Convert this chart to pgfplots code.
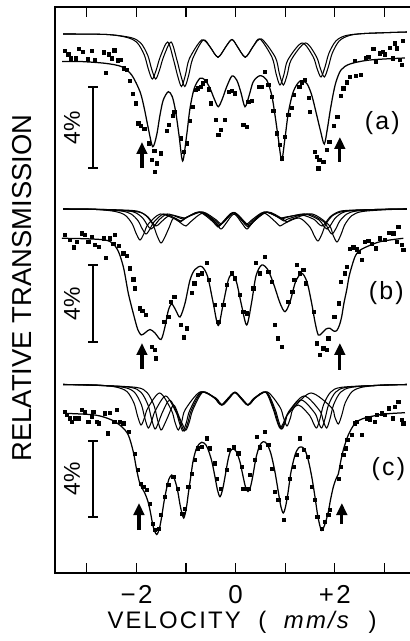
\documentclass[border=0pt]{standalone}
\usepackage{fontspec}
\setmainfont{Liberation Sans}
\newfontfamily\spfont{Liberation Sans}[LetterSpace=9]
\usepackage{pgfplots}
\pgfplotsset{compat=1.18}
\usetikzlibrary{arrows.meta}
\pgfplotsset{
 fitline/.style={black, line width=1.25bp, smooth, tension=0.5, mark=none},
 subline/.style={black, line width=1.05bp, smooth, tension=0.5, mark=none},
 pts/.style={black, only marks, mark=square*, mark size=1.6bp},
}
\begin{document}
\begin{tikzpicture}
\begin{axis}[
 name=main,
 scale only axis, width=359bp, height=566bp,
 xmin=-3.643, xmax=3.595, ymin=-573, ymax=-7,
 enlargelimits=false,
 axis line style={line width=1.4bp},
 xtick={-3,-2,-1,0,1,2,3},
 xticklabels={,{−2},,{0},,{+2},},
 ytick=\empty,
 xtick pos=both, xticklabel pos=lower,
 tick align=inside, major tick length=10bp,
 tick style={line width=1.2bp, black},
 xticklabel style={font=\spfont\fontsize{26}{26}\selectfont, anchor=base, yshift=-30bp},
 xlabel={VELOCITY\ \ (\ \ \textit{mm/s}\ \ )},
 xlabel style={font=\spfont\fontsize{24}{24}\selectfont, at={(axis description cs:0.521,-0.0972)}, anchor=base},
 ylabel={RELATIVE TRANSMISSION},
 ylabel style={font=\fontsize{27.5}{27.5}\selectfont, at={(axis description cs:-0.0919,0.5035)}, anchor=center},
]
% ---------------- panel (a) ----------------
\addplot[subline] coordinates {(-3.48,-34) (-2.6,-34.5) (-2.181,-37.6) (-1.981,-43) (-1.841,-55.2) (-1.761,-69.1) (-1.681,-79) (-1.601,-69.8) (-1.521,-56.8) (-1.371,-42) (-1.253,-59.8) (-1.173,-75.4) (-1.093,-86.5) (-1.013,-74.9) (-0.933,-58.6) (-0.685,-40) (-0.517,-46.9) (-0.437,-53) (-0.357,-57.3) (-0.277,-52.9) (-0.197,-46.6) (-0.075,-39.5) (0.034,-46.6) (0.114,-52.9) (0.194,-57.3) (0.274,-52.7) (0.354,-46.3) (0.490,-39) (0.733,-57.4) (0.813,-73.5) (0.893,-85) (0.973,-74.5) (1.053,-59.8) (1.337,-43) (1.560,-56.6) (1.640,-68.5) (1.720,-77) (1.800,-67.1) (1.880,-53.2) (2.020,-41) (2.220,-35.6) (2.6,-33.5) (3.45,-32)};
\addplot[subline] coordinates {(-3.48,-34) (-2.6,-34.5) (-2.114,-37.6) (-1.914,-43) (-1.774,-55.2) (-1.694,-69.1) (-1.614,-79) (-1.534,-69.8) (-1.454,-56.8) (-1.304,-42) (-1.186,-59.8) (-1.106,-75.4) (-1.026,-86.5) (-0.946,-74.9) (-0.866,-58.6) (-0.655,-40) (-0.517,-46.9) (-0.437,-53) (-0.357,-57.3) (-0.277,-52.9) (-0.197,-46.6) (-0.075,-39.5) (0.034,-46.6) (0.114,-52.9) (0.194,-57.3) (0.274,-52.7) (0.354,-46.3) (0.520,-39) (0.800,-57.4) (0.880,-73.5) (0.960,-85) (1.040,-74.5) (1.120,-59.8) (1.404,-43) (1.627,-56.6) (1.707,-68.5) (1.787,-77) (1.867,-67.1) (1.947,-53.2) (2.087,-41) (2.287,-35.6) (2.6,-33.5) (3.45,-32)};
\addplot[fitline] coordinates {(-3.50,-61.5) (-3.139,-61.5) (-2.635,-63.3) (-2.298,-66.7) (-2.097,-75) (-1.929,-91.7) (-1.843,-108.3) (-1.762,-128.3) (-1.673,-146.7) (-1.593,-135) (-1.526,-115) (-1.460,-100) (-1.359,-91.7) (-1.278,-96.7) (-1.210,-111.7) (-1.143,-135) (-1.069,-161) (-0.988,-135) (-0.921,-108.3) (-0.835,-88.3) (-0.720,-78.3) (-0.619,-80) (-0.518,-88.3) (-0.431,-99) (-0.351,-106.7) (-0.270,-99) (-0.181,-86.7) (-0.075,-76) (0.020,-80) (0.101,-91.7) (0.188,-106.7) (0.274,-95) (0.355,-81.7) (0.490,-75.7) (0.625,-80) (0.726,-95) (0.792,-115) (0.859,-138.3) (0.927,-160) (0.994,-138.3) (1.060,-113.3) (1.161,-91.7) (1.296,-81) (1.431,-83.3) (1.532,-95) (1.633,-115) (1.714,-131.7) (1.786,-144) (1.851,-128) (1.901,-112) (1.962,-95) (2.022,-82) (2.123,-70) (2.304,-64) (2.708,-60) (3.413,-58)};
\addplot[pts] coordinates {(-3.441,-50.7) (-3.375,-54.3) (-3.321,-58.3) (-3.226,-58.3) (-3.159,-49) (-3.079,-51.7) (-2.984,-59.3) (-2.903,-51) (-2.837,-60.3) (-2.669,-52.3) (-2.615,-72.7) (-2.554,-54.3) (-2.500,-58.3) (-2.448,-50.3) (-2.379,-60.3) (-2.327,-59.7) (-2.252,-68.3) (-2.198,-70) (-2.137,-80.7) (-2.077,-94) (-2.016,-103.3) (-1.964,-123.3) (-1.909,-125.7) (-1.843,-129) (-1.748,-143.3) (-1.694,-159.7) (-1.641,-151) (-1.593,-163.3) (-1.627,-171.7) (-1.506,-153.3) (-1.391,-131) (-1.345,-125) (-1.278,-115.7) (-1.238,-111.7) (-1.103,-138.3) (-1.056,-151.7) (-0.988,-143.3) (-0.921,-121) (-0.875,-106.7) (-0.806,-90) (-0.766,-88.3) (-0.706,-86.7) (-0.665,-83.3) (-0.605,-81) (-0.552,-89.3) (-0.504,-103.3) (-0.403,-120) (-0.351,-135) (-0.302,-130) (-0.216,-120) (-0.149,-91.7) (-0.081,-91) (-0.014,-93.3) (0.153,-125) (0.222,-126.7) (0.254,-101.7) (0.323,-101) (0.456,-86.7) (0.524,-86.7) (0.591,-71.7) (0.657,-85) (0.726,-96.7) (0.758,-111) (0.827,-133.3) (0.893,-145) (0.927,-158.3) (0.994,-136.7) (1.060,-115) (1.129,-107.7) (1.175,-95) (1.282,-86.7) (1.331,-82.3) (1.397,-80) (1.478,-97.7) (1.498,-111.7) (1.599,-151.7) (1.633,-156.7) (1.685,-160) (1.665,-168.3) (1.766,-161.7) (1.835,-150) (1.887,-141.7) (1.968,-125.7) (2.048,-116.7) (2.117,-95.7) (2.169,-88.3) (2.238,-82.3) (2.304,-76.7) (2.405,-61) (2.425,-75.7) (2.520,-75) (2.627,-58.3) (2.673,-56.7) (2.774,-49) (2.823,-61.7) (2.909,-53.3) (2.964,-51.7) (3.010,-54.3) (3.097,-47.7) (3.165,-58.3) (3.212,-43.3) (3.246,-48.3) (3.313,-60) (3.347,-65) (3.367,-41)};
% ---------------- panel (b) ----------------
\addplot[subline] coordinates {(-3.48,-209) (-2.8,-209.5) (-2.429,-211.5) (-2.229,-215.2) (-2.089,-223.6) (-2.009,-233.2) (-1.929,-240) (-1.849,-233.5) (-1.769,-224.4) (-1.52,-214) (-1.219,-219.2) (-1.119,-222) (-1.019,-218.5) (-0.74,-212) (-0.457,-221.8) (-0.357,-227) (-0.257,-221.8) (-0.055,-212.5) (0.148,-222) (0.248,-227) (0.348,-222) (0.64,-212) (0.934,-218.5) (1.034,-222) (1.134,-219.2) (1.54,-214) (1.882,-225.2) (1.962,-235) (2.042,-242) (2.122,-234.7) (2.202,-224.5) (2.342,-215.6) (2.542,-211.6) (3.0,-209.8) (3.45,-209)};
\addplot[subline] coordinates {(-3.48,-209) (-2.8,-209.5) (-2.006,-211.7) (-1.806,-215.8) (-1.666,-225) (-1.586,-235.5) (-1.506,-243) (-1.426,-236.8) (-1.346,-228) (-1.25,-218) (-1.102,-223.2) (-1.002,-226) (-0.902,-221.5) (-0.65,-213) (-0.396,-223.4) (-0.296,-229) (-0.196,-223.4) (-0.034,-214) (0.128,-223.4) (0.228,-229) (0.328,-223.4) (0.56,-213) (0.793,-221.5) (0.893,-226) (0.993,-223.2) (1.28,-218) (1.499,-227.2) (1.579,-235.3) (1.659,-241) (1.739,-234) (1.819,-224) (1.959,-215.4) (2.159,-211.6) (2.6,-209.8) (3.45,-209)};
\addplot[subline] coordinates {(-3.48,-209) (-2.8,-209.4) (-2.308,-211) (-2.108,-214) (-1.968,-220.8) (-1.888,-228.5) (-1.808,-234) (-1.728,-229) (-1.648,-222) (-1.45,-214) (-1.203,-218.6) (-1.103,-221) (-1.003,-217.9) (-0.72,-212) (-0.437,-221.1) (-0.337,-226) (-0.237,-221.1) (-0.035,-212.5) (0.168,-221.1) (0.268,-226) (0.368,-221.1) (0.62,-212) (0.874,-217.9) (0.974,-221) (1.074,-218.6) (1.46,-214) (1.782,-222) (1.862,-229) (1.942,-234) (2.022,-228.5) (2.102,-220.8) (2.242,-214) (2.442,-211) (3.0,-209.4) (3.45,-209)};
\addplot[subline] coordinates {(-3.48,-209) (-2.8,-209.3) (-2.208,-210.6) (-2.008,-213) (-1.868,-218.4) (-1.788,-224.6) (-1.708,-229) (-1.628,-225.3) (-1.548,-220) (-1.38,-214) (-1.163,-217.3) (-1.063,-219) (-0.963,-216.6) (-0.69,-212) (-0.417,-220.5) (-0.317,-225) (-0.217,-220.5) (-0.035,-212.5) (0.148,-220.5) (0.248,-225) (0.348,-220.5) (0.59,-212) (0.833,-216.6) (0.933,-219) (1.033,-217.3) (1.39,-214) (1.681,-220) (1.761,-225.3) (1.841,-229) (1.921,-224.6) (2.001,-218.4) (2.141,-213) (2.341,-210.6) (3.0,-209.3) (3.45,-209)};
\addplot[subline] coordinates {(-3.48,-209) (-2.8,-209.3) (-2.107,-210.4) (-1.907,-212.4) (-1.767,-217) (-1.687,-222.3) (-1.607,-226) (-1.527,-223.3) (-1.447,-219.4) (-1.31,-215) (-1.123,-217) (-1.023,-218) (-0.923,-215.9) (-0.66,-212) (-0.396,-219.8) (-0.296,-224) (-0.196,-219.8) (-0.034,-212.5) (0.128,-219.8) (0.228,-224) (0.328,-219.8) (0.57,-212) (0.813,-215.9) (0.913,-218) (1.013,-217) (1.33,-215) (1.580,-219.4) (1.660,-223.3) (1.740,-226) (1.820,-222.3) (1.900,-217) (2.040,-212.4) (2.240,-210.4) (3.0,-209.3) (3.45,-209)};
\addplot[fitline] coordinates {(-3.502,-238.3) (-2.635,-240) (-2.399,-248.3) (-2.266,-266.7) (-2.165,-293.3) (-2.065,-313.3) (-1.976,-329.3) (-1.903,-335) (-1.819,-332.5) (-1.728,-329.5) (-1.627,-333) (-1.506,-339.5) (-1.425,-326.7) (-1.359,-310.5) (-1.290,-304) (-1.210,-310) (-1.123,-317) (-1.022,-303.3) (-0.921,-280) (-0.821,-269.5) (-0.685,-266.5) (-0.565,-276.7) (-0.452,-303.3) (-0.351,-325.5) (-0.250,-303.3) (-0.149,-280) (-0.075,-274.5) (0.016,-282) (0.117,-305) (0.222,-325) (0.319,-303) (0.409,-276) (0.524,-265) (0.651,-270) (0.772,-285) (0.893,-303) (0.994,-311.7) (1.095,-302) (1.206,-282) (1.331,-273.3) (1.438,-282) (1.532,-303.3) (1.599,-322) (1.665,-335) (1.740,-333) (1.821,-329) (1.901,-328.3) (1.972,-331) (2.036,-330.7) (2.093,-325) (2.137,-316.7) (2.183,-303) (2.238,-290) (2.284,-277) (2.339,-266.7) (2.405,-256.7) (2.472,-251.7) (2.573,-248.3) (2.909,-241.7) (3.379,-238.3)};
\addplot[pts] coordinates {(-3.441,-235) (-3.341,-240) (-3.274,-247.3) (-3.206,-241.7) (-3.105,-233.3) (-3.052,-235) (-2.972,-241.7) (-2.903,-236.7) (-2.837,-245) (-2.770,-246.7) (-2.669,-238.3) (-2.615,-257.5) (-2.534,-238.3) (-2.468,-244) (-2.433,-235) (-2.353,-246) (-2.266,-253.3) (-2.198,-256) (-2.131,-268.3) (-2.065,-279.3) (-2.030,-288.3) (-1.929,-308.3) (-1.883,-310.7) (-1.815,-315) (-1.694,-346.7) (-1.627,-350) (-1.607,-358.3) (-1.440,-321.7) (-1.359,-316.7) (-1.304,-301.7) (-1.238,-296.7) (-1.103,-325) (-1.048,-337.3) (-0.988,-328.3) (-0.887,-292.7) (-0.835,-283.3) (-0.766,-275) (-0.685,-273.3) (-0.585,-262.7) (-0.552,-280) (-0.417,-305) (-0.351,-321.7) (-0.250,-305) (-0.181,-285) (-0.081,-273.3) (-0.014,-278.3) (0.087,-295) (0.153,-311.7) (0.222,-313.3) (0.355,-288.3) (0.403,-262.7) (0.490,-273.3) (0.591,-256.7) (0.657,-271.7) (0.726,-281.7) (0.792,-325) (0.847,-338.3) (0.927,-346.7) (1.060,-301.7) (1.141,-291.7) (1.181,-280) (1.230,-265) (1.296,-273.3) (1.363,-270) (1.411,-283.3) (1.565,-311.7) (1.633,-343.3) (1.700,-355) (1.766,-348.3) (1.835,-350) (1.867,-338.3) (1.988,-316.7) (2.069,-303.3) (2.123,-281.7) (2.190,-273.3) (2.238,-266.7) (2.304,-249) (2.371,-247.3) (2.440,-249.3) (2.486,-251.7) (2.540,-260) (2.607,-241.7) (2.673,-240.7) (2.742,-244) (2.823,-248.3) (2.909,-238.3) (3.010,-240) (3.077,-232.7) (3.177,-233.3) (3.246,-241.7) (3.278,-226.7) (3.347,-245) (3.379,-250)};
% ---------------- panel (c) ----------------
\addplot[subline] coordinates {(-3.48,-384.5) (-2.8,-385) (-2.409,-387.1) (-2.189,-391.7) (-2.049,-403.3) (-1.979,-415.9) (-1.909,-425) (-1.839,-417.8) (-1.769,-407.8) (-1.53,-393) (-1.297,-410.1) (-1.227,-421.7) (-1.157,-430) (-1.087,-421.5) (-1.017,-409.6) (-0.72,-392) (-0.422,-398) (-0.352,-402) (-0.282,-405) (-0.212,-402) (-0.142,-398) (-0.014,-392) (0.114,-398) (0.184,-402) (0.254,-405) (0.324,-402) (0.394,-398) (0.64,-392) (0.894,-407.3) (0.964,-417.6) (1.034,-426) (1.104,-417.8) (1.174,-407.8) (1.52,-393) (1.929,-407.4) (1.999,-417) (2.069,-424) (2.139,-415.1) (2.209,-402.8) (2.349,-391.5) (2.569,-387) (3.0,-385) (3.45,-384.5)};
\addplot[subline] coordinates {(-3.48,-384.5) (-2.8,-385.2) (-2.262,-387.3) (-2.042,-392.2) (-1.902,-404.6) (-1.832,-418.2) (-1.762,-428) (-1.692,-420.8) (-1.622,-410.8) (-1.41,-396) (-1.203,-412.2) (-1.133,-423.1) (-1.063,-431) (-0.993,-422.2) (-0.923,-410) (-0.7,-392) (-0.402,-398) (-0.332,-402) (-0.262,-405) (-0.192,-402) (-0.122,-398) (-0.014,-392.5) (0.094,-398) (0.164,-402) (0.234,-405) (0.304,-402) (0.374,-398) (0.62,-392) (0.793,-409.1) (0.863,-420.7) (0.933,-429) (1.003,-421.6) (1.073,-411.3) (1.38,-396) (1.695,-410.8) (1.765,-420.8) (1.835,-428) (1.905,-418.2) (1.975,-404.6) (2.115,-392.2) (2.335,-387.3) (2.9,-385.2) (3.45,-384.5)};
\addplot[subline] coordinates {(-3.48,-384.5) (-2.8,-385.3) (-2.127,-387.3) (-1.907,-392.4) (-1.767,-405.1) (-1.697,-419) (-1.627,-429) (-1.557,-422.5) (-1.487,-413.4) (-1.33,-400) (-1.172,-414.4) (-1.102,-424) (-1.032,-431) (-0.962,-422.2) (-0.892,-410) (-0.68,-392) (-0.422,-398) (-0.352,-402) (-0.282,-405) (-0.212,-402) (-0.142,-398) (-0.014,-392.5) (0.114,-398) (0.184,-402) (0.254,-405) (0.324,-402) (0.394,-398) (0.61,-392) (0.773,-409.1) (0.843,-420.7) (0.913,-429) (0.983,-422.5) (1.053,-413.4) (1.32,-400) (1.594,-413) (1.664,-421.7) (1.734,-428) (1.804,-418.2) (1.874,-404.6) (2.014,-392.2) (2.234,-387.3) (2.9,-385.3) (3.45,-384.5)};
\addplot[subline] coordinates {(-3.48,-384.5) (-2.8,-385.4) (-2.006,-387.4) (-1.786,-392.6) (-1.646,-405.6) (-1.576,-419.8) (-1.506,-430) (-1.436,-424.4) (-1.366,-416.6) (-1.25,-405) (-1.142,-416.6) (-1.072,-424.4) (-1.002,-430) (-0.932,-421.5) (-0.862,-409.6) (-0.66,-392) (-0.432,-398) (-0.362,-402) (-0.292,-405) (-0.222,-402) (-0.152,-398) (-0.024,-392.5) (0.104,-398) (0.174,-402) (0.244,-405) (0.314,-402) (0.384,-398) (0.6,-392) (0.753,-408.7) (0.823,-419.9) (0.893,-428) (0.963,-422.8) (1.033,-415.6) (1.26,-405) (1.493,-415.6) (1.563,-422.8) (1.633,-428) (1.703,-418.2) (1.773,-404.6) (1.913,-392.2) (2.133,-387.3) (2.9,-385.3) (3.45,-384.5)};
\addplot[fitline] coordinates {(-3.476,-413.3) (-2.837,-415) (-2.500,-420) (-2.298,-426.7) (-2.165,-435) (-2.065,-451.7) (-1.996,-470) (-1.929,-484) (-1.843,-492) (-1.778,-500) (-1.728,-510) (-1.661,-527) (-1.593,-534.5) (-1.536,-528) (-1.492,-516.7) (-1.446,-502) (-1.391,-488) (-1.345,-479) (-1.290,-475) (-1.234,-479) (-1.173,-490) (-1.113,-507) (-1.048,-518) (-0.992,-507) (-0.956,-494) (-0.901,-475) (-0.855,-460) (-0.780,-447) (-0.685,-442.3) (-0.599,-445) (-0.538,-452) (-0.478,-462) (-0.417,-477) (-0.367,-490) (-0.317,-496.7) (-0.266,-490) (-0.216,-477) (-0.155,-460) (-0.105,-451) (-0.048,-449) (0.016,-452) (0.087,-462) (0.147,-476) (0.198,-487) (0.248,-491.5) (0.298,-487) (0.349,-475) (0.409,-458) (0.480,-446) (0.556,-441.7) (0.631,-444) (0.712,-454) (0.792,-472) (0.863,-493) (0.913,-507) (0.960,-513) (1.004,-507) (1.054,-493) (1.115,-472) (1.196,-455) (1.266,-448) (1.331,-447) (1.397,-450) (1.468,-461) (1.538,-478) (1.599,-497) (1.659,-517) (1.730,-530.5) (1.800,-524) (1.867,-512) (1.911,-500) (1.968,-487) (2.022,-479) (2.069,-474) (2.123,-460) (2.169,-450) (2.270,-435) (2.405,-423.3) (2.546,-419) (2.708,-416.7) (3.010,-414) (3.413,-412.7)};
\addplot[pts] coordinates {(-3.441,-411.7) (-3.407,-415) (-3.341,-418.3) (-3.306,-421.7) (-3.240,-418.3) (-3.173,-418.3) (-3.105,-410) (-3.038,-411.7) (-2.972,-421.7) (-2.903,-416.7) (-2.871,-411.7) (-2.802,-421.7) (-2.770,-423.3) (-2.649,-413.3) (-2.581,-433.3) (-2.534,-412.7) (-2.448,-421.7) (-2.399,-410) (-2.333,-421.7) (-2.266,-423.3) (-2.165,-431.7) (-2.044,-454) (-1.976,-470) (-1.915,-484) (-1.863,-486.7) (-1.794,-490) (-1.728,-503.3) (-1.681,-523.3) (-1.627,-530) (-1.560,-528.3) (-1.506,-515) (-1.425,-496.7) (-1.359,-485) (-1.258,-476.7) (-1.169,-488.3) (-1.077,-513.3) (-1.022,-508.3) (-0.956,-486.7) (-0.887,-473.3) (-0.821,-460) (-0.766,-448.3) (-0.685,-446.7) (-0.585,-438.3) (-0.518,-448.3) (-0.431,-463.3) (-0.383,-478.3) (-0.296,-488.3) (-0.181,-470) (-0.149,-450) (-0.048,-447.3) (0.052,-453.3) (0.121,-466.7) (0.153,-488.3) (0.254,-488.3) (0.288,-475) (0.389,-460) (0.423,-436.7) (0.490,-447.3) (0.591,-431.7) (0.657,-445) (0.726,-468.3) (0.792,-491.7) (0.859,-500) (0.960,-520) (1.034,-498) (1.095,-478.3) (1.175,-466.7) (1.230,-455) (1.296,-438.3) (1.377,-450) (1.444,-456.7) (1.532,-486.7) (1.599,-500) (1.645,-516.7) (1.734,-528.3) (1.800,-521.7) (1.867,-515) (1.901,-510) (2.069,-478.3) (2.117,-466.7) (2.169,-455) (2.224,-448.3) (2.250,-440) (2.339,-435) (2.405,-423.3) (2.440,-421.7) (2.540,-435) (2.641,-418.3) (2.708,-419.3) (2.808,-421.7) (2.843,-415) (2.944,-413.3) (3.010,-415) (3.077,-408.3) (3.165,-418.3) (3.212,-406.7) (3.278,-401.7) (3.347,-420) (3.379,-423.3)};
% ---------------- annotations ----------------
\draw[line width=1.1bp] (axis cs:-2.877,-87) -- (axis cs:-2.877,-168);
\draw[line width=1.1bp] (axis cs:-2.977,-87) -- (axis cs:-2.777,-87);
\draw[line width=1.1bp] (axis cs:-2.977,-168) -- (axis cs:-2.777,-168);
\draw[line width=1.1bp] (axis cs:-2.877,-265) -- (axis cs:-2.877,-342);
\draw[line width=1.1bp] (axis cs:-2.977,-265) -- (axis cs:-2.777,-265);
\draw[line width=1.1bp] (axis cs:-2.977,-342) -- (axis cs:-2.777,-342);
\draw[line width=1.1bp] (axis cs:-2.877,-441) -- (axis cs:-2.877,-517);
\draw[line width=1.1bp] (axis cs:-2.977,-441) -- (axis cs:-2.777,-441);
\draw[line width=1.1bp] (axis cs:-2.977,-517) -- (axis cs:-2.777,-517);
\node[rotate=90, font=\fontsize{23}{23}\selectfont] at (axis cs:-3.30,-128) {4\%};
\node[rotate=90, font=\fontsize{23}{23}\selectfont] at (axis cs:-3.30,-304) {4\%};
\node[rotate=90, font=\fontsize{23}{23}\selectfont] at (axis cs:-3.30,-479) {4\%};
\draw[line width=3.2bp, -{Triangle[width=10.5bp,length=12bp]}] (axis cs:-1.89,-168) -- (axis cs:-1.89,-142);
\draw[line width=3.2bp, -{Triangle[width=10.5bp,length=12bp]}] (axis cs:2.10,-162) -- (axis cs:2.10,-137);
\draw[line width=3.2bp, -{Triangle[width=10.5bp,length=12bp]}] (axis cs:-1.89,-369) -- (axis cs:-1.89,-343);
\draw[line width=3.2bp, -{Triangle[width=10.5bp,length=12bp]}] (axis cs:2.10,-370) -- (axis cs:2.10,-343);
\draw[line width=3.2bp, -{Triangle[width=10.5bp,length=12bp]}] (axis cs:-1.95,-530) -- (axis cs:-1.95,-503);
\draw[line width=3.2bp, -{Triangle[width=10.5bp,length=12bp]}] (axis cs:2.14,-524) -- (axis cs:2.14,-503);
\node[font=\spfont\fontsize{25}{25}\selectfont] at (axis cs:2.956,-123.5) {(a)};
\node[font=\spfont\fontsize{25}{25}\selectfont] at (axis cs:3.036,-293) {(b)};
\node[font=\spfont\fontsize{25}{25}\selectfont] at (axis cs:3.077,-469) {(c)};
\end{axis}
\pgfresetboundingbox
\path[use as bounding box] ([shift={(-55bp,-68bp)}]main.south west) rectangle ([shift={(-4bp,7bp)}]main.north east);
\end{tikzpicture}
\end{document}
